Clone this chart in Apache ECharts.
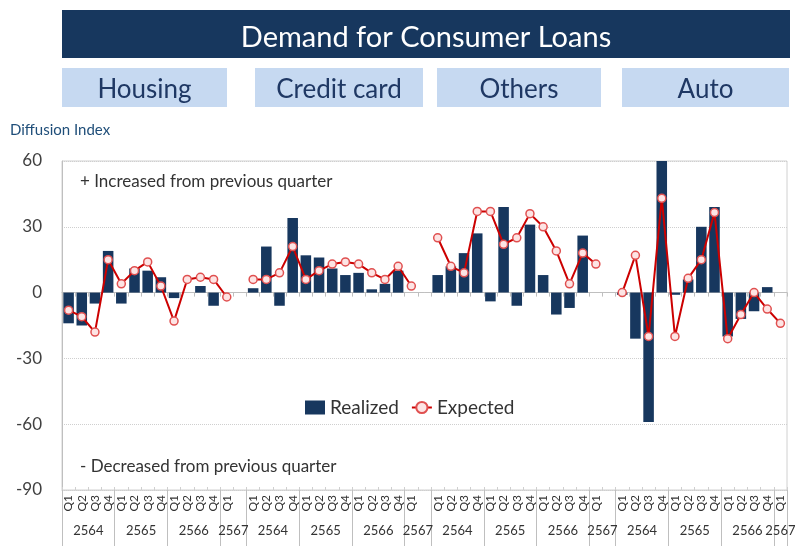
<!DOCTYPE html>
<html>
<head>
<meta charset="utf-8">
<script src="https://cdn.jsdelivr.net/npm/echarts@6/dist/echarts.min.js"></script>
<style>
  html, body { margin: 0; padding: 0; background: #fff; }
  #chart { width: 799px; height: 546px; }
</style>
</head>
<body>
<div id="chart"></div>
<script>
  // 数据
  var panels = ['Housing', 'Credit card', 'Others', 'Auto'];
  var quarters = ['Q1', 'Q2', 'Q3', 'Q4', 'Q1', 'Q2', 'Q3', 'Q4', 'Q1', 'Q2', 'Q3', 'Q4', 'Q1'];
  var quarterYears = ['2564', '2564', '2564', '2564', '2565', '2565', '2565', '2565', '2566', '2566', '2566', '2566', '2567'];
  var yTicks = [-90, -60, -30, 0, 30, 60];

  var housingRealized = [-14, -15, -5, 19, -5, 11, 10, 7, -2.5, 0, 3, -6, null];
  var housingExpected = [-8, -11, -18, 15, 4, 10, 14, 3, -13, 6, 7, 6, -2];
  var creditRealized = [2, 21, -6, 34, 17, 16, 11, 8, 9, 1.5, 4, 10, null];
  var creditExpected = [6, 6, 9, 21, 6, 10, 13, 14, 13, 9, 6, 12, 3];
  var othersRealized = [8, 12, 18, 27, -4, 39, -6, 31, 8, -10, -7, 26, null];
  var othersExpected = [25, 12, 9, 37, 37, 22, 25, 36, 30, 19, 4, 18, 13];
  var autoRealized = [-1, -21, -59, 60, -1, 6, 30, 39, -20, -12, -8.5, 2.5, null];
  var autoExpected = [0, 17, -20, 43, -20, 6.5, 15, 36.5, -21, -10, 0, -7.5, -14];

  var realizedAll = [housingRealized, creditRealized, othersRealized, autoRealized];
  var expectedAll = [housingExpected, creditExpected, othersExpected, autoExpected];

  // 拼接类目, 面板之间留一个空位
  var cats = [], qLabels = [], realized = [], expected = [];
  var yearTickPos = [], yearLabelPos = [], yearLabelText = [];
  panels.forEach(function (p, pi) {
    var start = cats.length;
    quarters.forEach(function (q, i) {
      cats.push(p + ' ' + quarterYears[i] + ' ' + q);
      qLabels.push(q);
      realized.push(realizedAll[pi][i]);
      expected.push(expectedAll[pi][i]);
    });
    if (pi < panels.length - 1) {
      cats.push(p + ' gap');
      qLabels.push('');
      realized.push(null);
      expected.push(null);
    }
    var end = cats.length;
    // 年份分组
    var i = 0;
    while (i < quarters.length) {
      var y = quarterYears[i], j = i;
      while (j < quarters.length && quarterYears[j] === y) j++;
      var a = start + i, b = (j === quarters.length) ? end : start + j;
      yearTickPos.push(a);
      yearLabelPos.push((a + b) / 2);
      yearLabelText.push(y);
      i = j;
    }
  });
  yearTickPos.push(cats.length);

  var myChart = echarts.init(document.getElementById('chart'));
  var font = 'Lato, "Open Sans", sans-serif';
  var navy = '#17375e';

  var graphics = [
    {type: 'rect', shape: {x: 62, y: 10, width: 728, height: 48}, style: {fill: navy}},
    {type: 'text', x: 426, y: 38, style: {text: 'Demand for Consumer Loans', fill: '#fff', font: '29px ' + font, textAlign: 'center', textVerticalAlign: 'middle'}},
    {type: 'text', x: 10, y: 130, style: {text: 'Diffusion Index', fill: '#1f4e79', font: '15px ' + font, textVerticalAlign: 'middle'}},
    {type: 'text', x: 80, y: 182, z: 10, style: {text: '+ Increased from previous quarter', fill: '#333', font: '17px ' + font, textVerticalAlign: 'middle'}},
    {type: 'text', x: 80, y: 467, z: 10, style: {text: '- Decreased from previous quarter', fill: '#333', font: '17px ' + font, textVerticalAlign: 'middle'}}
  ];
  var boxes = [[62, 227], [255, 423], [437, 601], [622, 789]];
  panels.forEach(function (p, i) {
    var b = boxes[i];
    graphics.push({type: 'rect', shape: {x: b[0], y: 68, width: b[1] - b[0], height: 39}, style: {fill: '#c6d9f1'}});
    graphics.push({type: 'text', x: (b[0] + b[1]) / 2, y: 90, style: {text: p, fill: '#1f3864', font: '26px ' + font, textAlign: 'center', textVerticalAlign: 'middle'}});
  });

  option = {
    animation: false,
    textStyle: {fontFamily: font},
    graphic: graphics,
    grid: {left: 62, right: 12, top: 161, bottom: 56, show: true, borderColor: '#d0d0d0', borderWidth: 1},
    legend: {
      left: 300, top: 393,
      itemWidth: 20, itemHeight: 14, itemGap: 12,
      textStyle: {fontSize: 19, color: '#333', fontFamily: font},
      data: [
        {name: 'Realized', icon: 'rect'},
        {name: 'Expected'}
      ]
    },
    xAxis: [
      {
        type: 'category',
        data: cats,
        axisLine: {onZero: true, lineStyle: {color: '#bfbfbf'}},
        axisTick: {show: true, length: 4, interval: 0, lineStyle: {color: '#bfbfbf'}},
        axisLabel: {show: false}
      },
      {
        type: 'category',
        data: qLabels,
        position: 'bottom',
        axisLine: {onZero: false, lineStyle: {color: '#cfcfcf', type: 'dotted'}},
        axisTick: {show: true, inside: true, length: 3, interval: 0, lineStyle: {color: '#cfcfcf'}},
        axisLabel: {interval: 0, rotate: 90, fontSize: 12, color: '#333', margin: 5}
      },
      {
        type: 'value',
        min: 0,
        max: cats.length,
        position: 'bottom',
        axisLine: {show: false, onZero: false},
        splitLine: {show: false},
        axisTick: {show: true, length: 56, customValues: yearTickPos, lineStyle: {color: '#bfbfbf'}},
        axisLabel: {
          customValues: yearLabelPos,
          margin: 34,
          fontSize: 13,
          color: '#333',
          formatter: function (v) {
            var k = yearLabelPos.indexOf(v);
            return k >= 0 ? yearLabelText[k] : '';
          }
        }
      }
    ],
    yAxis: {
      type: 'value',
      min: yTicks[0],
      max: yTicks[yTicks.length - 1],
      interval: 30,
      axisLine: {show: true, lineStyle: {color: '#bfbfbf'}},
      axisTick: {show: false},
      axisLabel: {fontSize: 17, color: '#404040', margin: 20},
      splitLine: {lineStyle: {color: '#cfcfcf', type: 'dotted'}}
    },
    series: [
      {
        name: 'Realized',
        type: 'bar',
        xAxisIndex: 0,
        data: realized,
        barWidth: '80%',
        itemStyle: {color: navy}
      },
      {
        name: 'Expected',
        type: 'line',
        xAxisIndex: 0,
        data: expected,
        connectNulls: false,
        symbol: 'circle',
        symbolSize: 8,
        lineStyle: {color: '#cc0000', width: 2},
        itemStyle: {color: '#fde4e4', borderColor: '#e05050', borderWidth: 1.5}
      }
    ]
  };
  myChart.setOption(option);
</script>
</body>
</html>
